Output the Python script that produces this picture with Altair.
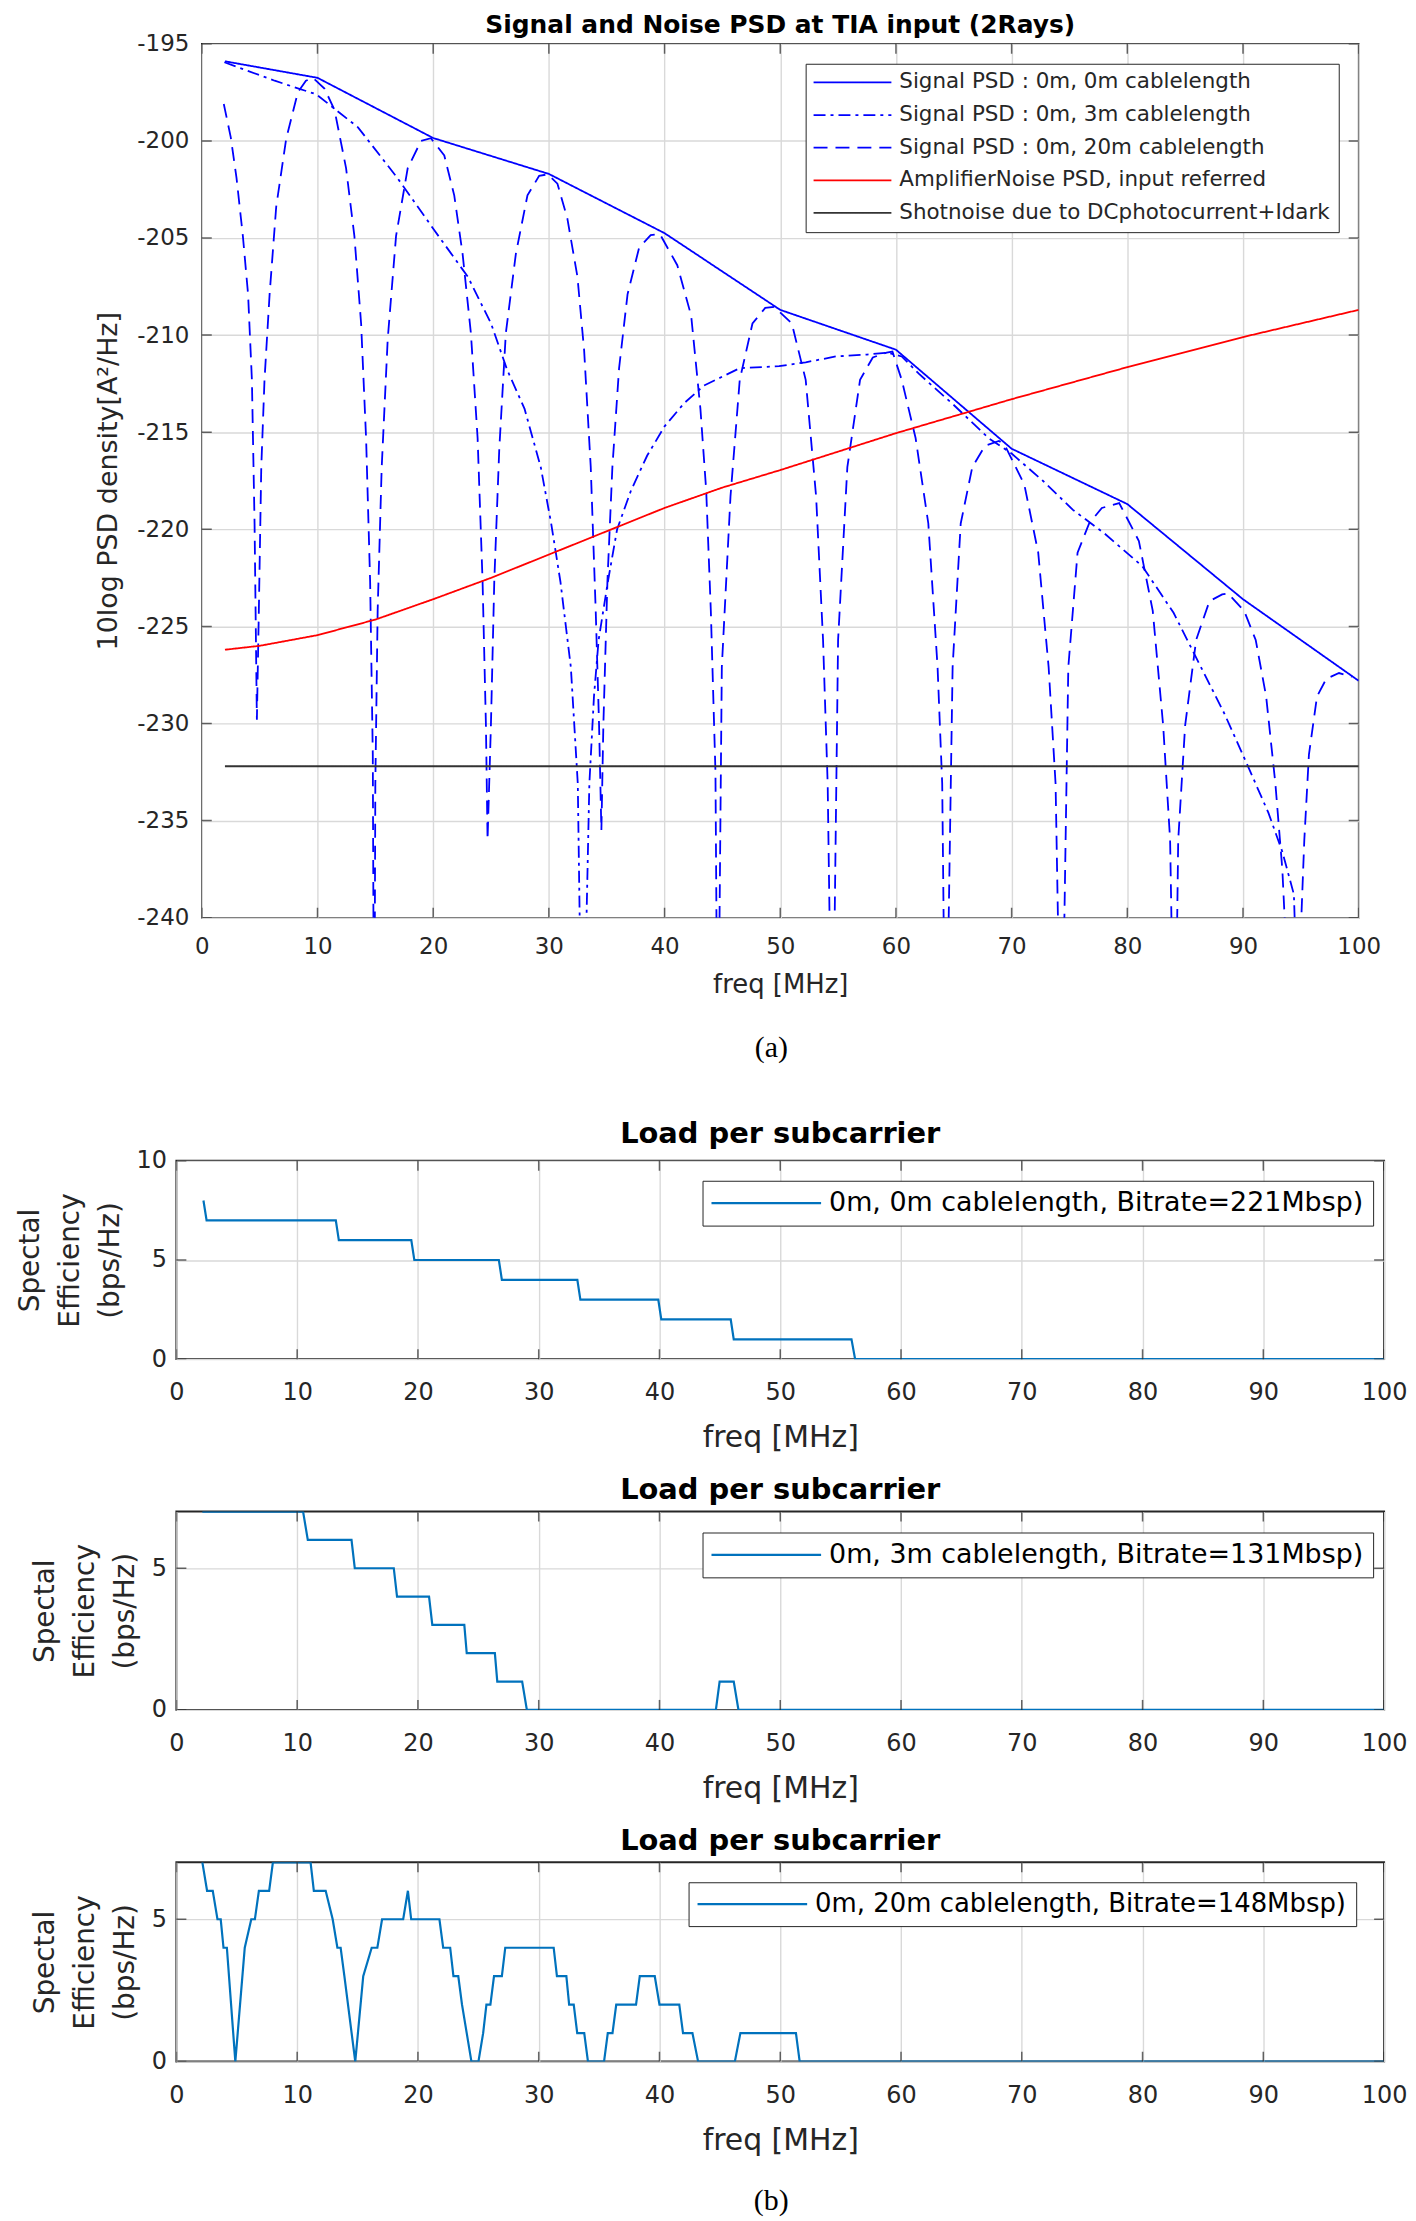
import altair as alt
import pandas as pd

FONT = "DejaVu Sans"
INK = "#262626"
GRID = "#d9d9d9"

# ---------------- (a) Signal and noise PSD ----------------
series_names = [
    "Signal PSD : 0m, 0m cablelength",
    "Signal PSD : 0m, 3m cablelength",
    "Signal PSD : 0m, 20m cablelength",
    "AmplifierNoise PSD, input referred",
    "Shotnoise due to DCphotocurrent+Idark",
]
series_colors = ["#0000ff", "#0000ff", "#0000ff", "#ff0000", "#333333"]
series_dash = [[1, 0], [12, 5, 3, 5], [14, 8], [1, 0], [1, 0]]

freq_0m = [2.0, 10, 20, 30, 40, 50, 60, 70, 80, 90, 100]
psd_0m = [-195.9, -196.75, -199.85, -201.7, -204.75, -208.7, -210.75, -215.85, -218.7, -223.6, -227.8]

freq_3m = [1.95, 6.3, 9.9, 13.5, 16.9, 20.1, 23.0, 25.0, 26.4, 27.9, 29.3, 30.2, 31.0, 31.9,
           32.5, 32.9, 33.5, 33.9, 34.3, 35.1, 35.9, 37.1, 38.5, 40.0, 41.7, 43.4, 46.5, 49.9,
           52.2, 54.8, 57.5, 59.3, 60.5, 62.0, 65.0, 68.0, 70.0, 72.7, 75.3, 78.0, 81.3, 84.0,
           86.2, 88.4, 90.5, 92.2, 93.4, 94.4, 95.0]
psd_3m = [-195.95, -196.9, -197.6, -199.3, -201.9, -204.6, -207.0, -209.4, -211.8, -213.8,
          -216.8, -219.7, -222.7, -227.1, -233.1, -250.0, -233.1, -228.6, -225.7, -222.7,
          -220.0, -218.0, -216.2, -214.7, -213.5, -212.6, -211.7, -211.6, -211.4, -211.1,
          -211.0, -210.9, -211.1, -212.0, -213.6, -215.3, -216.1, -217.5, -219.0, -220.2,
          -221.9, -224.3, -226.9, -229.5, -232.3, -234.6, -236.6, -238.8, -250.0]

freq_20m = [1.9, 2.5, 3.0, 3.55, 4.0, 4.33, 4.56, 4.76, 4.93, 5.14, 5.42, 5.86, 6.43, 7.29,
            8.3, 9.0, 9.6, 10.6, 11.47, 12.47, 13.19, 13.77, 14.2, 14.55, 14.78, 14.9, 15.0,
            15.2, 15.55, 16.07, 16.79, 17.8, 18.95, 19.8, 20.96, 21.82, 22.54, 23.26, 23.84,
            24.27, 24.56, 24.7, 24.99, 25.28, 25.71, 26.28, 27.15, 28.15, 29.16, 29.9, 30.74,
            31.6, 32.47, 33.05, 33.62, 34.05, 34.34, 34.54, 34.71, 35.06, 35.49, 36.07, 36.8,
            37.8, 38.8, 39.6, 41.1, 42.3, 43.1, 43.6, 44.0, 44.4, 44.6, 44.95, 45.7, 46.5,
            47.6, 48.7, 49.5, 51.0, 52.2, 53.1, 53.7, 54.1, 54.5, 55.0, 55.8, 56.9, 58.0,
            59.2, 59.7, 60.5, 61.7, 62.8, 63.6, 64.0, 64.3, 64.9, 65.6, 66.6, 67.7, 68.9,
            69.4, 71.1, 72.3, 73.2, 73.8, 74.3, 74.9, 75.7, 76.7, 77.8, 79.3, 81.0, 82.2,
            83.1, 83.7, 84.1, 84.4, 85.0, 85.95, 87.1, 88.2, 88.7, 90.1, 91.1, 92.0, 92.8,
            93.4, 94.4, 95.3, 95.7, 96.4, 97.2, 98.3, 99.4]
psd_20m = [-198.1, -199.8, -201.9, -204.9, -207.9, -212.3, -219.7, -229.8, -224.2, -216.8,
           -212.3, -207.9, -203.4, -199.9, -197.5, -196.9, -196.75, -197.3, -198.4, -201.4,
           -204.9, -209.4, -215.3, -222.7, -231.6, -250.0, -233.1, -224.2, -216.8, -210.2,
           -204.9, -201.4, -200.0, -199.86, -200.75, -202.8, -205.8, -209.9, -215.3, -222.7,
           -230.1, -236.0, -230.1, -222.7, -215.9, -209.9, -205.8, -202.8, -201.8, -201.72,
           -202.2, -204.0, -207.0, -210.8, -216.8, -224.2, -230.1, -235.5, -230.1, -222.7,
           -216.8, -211.7, -207.9, -205.5, -204.85, -204.8, -206.4, -209.0, -213.8, -218.0,
           -224.2, -232.5, -250.0, -227.1, -218.3, -212.3, -209.4, -208.6, -208.55, -209.4,
           -212.3, -218.3, -225.7, -233.1, -250.0, -225.7, -216.8, -212.3, -211.15, -210.9,
           -210.85, -212.3, -215.3, -219.7, -227.1, -233.1, -250.0, -227.1, -219.7, -216.8,
           -215.7, -215.45, -215.65, -217.7, -221.2, -227.1, -233.1, -250.0, -227.1, -221.2,
           -219.7, -218.9, -218.65, -220.6, -224.2, -230.1, -236.0, -250.0, -236.0, -230.1,
           -225.7, -223.7, -223.35, -223.3, -224.2, -225.7, -228.6, -233.1, -237.5, -250.0,
           -236.0, -231.6, -228.6, -227.7, -227.4, -227.6]

freq_amp = [2, 5, 10, 15, 20, 25, 30, 35, 40, 45, 50, 55, 60, 70, 80, 90, 100]
psd_amp = [-226.2, -226.0, -225.45, -224.65, -223.6, -222.5, -221.3, -220.1, -218.9, -217.85,
           -216.95, -216.0, -215.05, -213.3, -211.65, -210.1, -208.7]

freq_shot = [2, 100]
psd_shot = [-232.2, -232.2]

xA_ticks = list(range(0, 101, 10))
yA_ticks = list(range(-240, -194, 5))

rows = []
for name, fx, fy in zip(series_names,
                        [freq_0m, freq_3m, freq_20m, freq_amp, freq_shot],
                        [psd_0m, psd_3m, psd_20m, psd_amp, psd_shot]):
    for f, p in zip(fx, fy):
        rows.append({"series": name, "freq": f, "psd": p})
df_a = pd.DataFrame(rows)

xA = alt.X("freq:Q", scale=alt.Scale(domain=[0, 100], nice=False),
           axis=alt.Axis(values=xA_ticks, title="freq [MHz]", grid=True, gridColor=GRID,
                         gridWidth=1.4, domain=False, ticks=False, labelFont=FONT,
                         labelFontSize=23, labelColor=INK, labelPadding=18, labelFlush=False,
                         titleFont=FONT, titleFontSize=26, titleFontWeight="normal",
                         titleColor=INK, titlePadding=13))
yA = alt.Y("psd:Q", scale=alt.Scale(domain=[-240, -195], nice=False, zero=False),
           axis=alt.Axis(values=yA_ticks, title="10log PSD density[A²/Hz]", grid=True,
                         gridColor=GRID, gridWidth=1.4, domain=False, ticks=False,
                         labelFont=FONT, labelFontSize=23, labelColor=INK, labelPadding=13,
                         labelExpr="'' + datum.value", labelFlush=False,
                         titleFont=FONT, titleFontSize=27, titleFontWeight="normal",
                         titleColor=INK, titlePadding=14))

legend_a = alt.Legend(orient="none", legendX=606, legendY=20, title=None,
                      symbolType="M-10,0L10,0", symbolSize=61, symbolStrokeWidth=1.8,
                      symbolOffset=28.25, labelOffset=36.25, labelFont=FONT,
                      labelFontSize=21.5, labelColor=INK, labelLimit=800, rowPadding=9.75,
                      padding=8, fillColor="white", strokeColor=INK)

lines_a = alt.Chart(df_a).mark_line(clip=True, strokeWidth=1.8).encode(
    x=xA, y=yA,
    color=alt.Color("series:N", scale=alt.Scale(domain=series_names, range=series_colors),
                    legend=legend_a, title=None),
    strokeDash=alt.StrokeDash("series:N", scale=alt.Scale(domain=series_names, range=series_dash),
                              legend=legend_a, title=None),
)

tick_x_a = pd.DataFrame([{"freq": t, "psd": e} for t in xA_ticks for e in (-240, -195)])
tick_y_a = pd.DataFrame([{"freq": e, "psd": t} for t in yA_ticks for e in (0, 100)])
ticks_a = alt.Chart(tick_x_a).mark_tick(orient="vertical", size=20, thickness=1.5,
                                        color=INK, clip=True).encode(x=xA, y=yA)
ticks_ay = alt.Chart(tick_y_a).mark_tick(orient="horizontal", size=20, thickness=1.5,
                                         color=INK, clip=True).encode(x=xA, y=yA)

chart_a = alt.layer(lines_a, ticks_a, ticks_ay).properties(
    width=1161, height=877,
    title=alt.Title("Signal and Noise PSD at TIA input (2Rays)", font=FONT, fontSize=25,
                    fontWeight="bold", color="black", offset=-5, anchor="middle",
                    frame="group"),
    view=alt.ViewBackground(stroke=INK, strokeWidth=1.6),
)

# ---------------- (b) Load per subcarrier ----------------
b1_name = "0m, 0m cablelength, Bitrate=221Mbsp)"
b1_freq = [2.24, 2.5, 13.2, 13.45, 19.45, 19.7, 26.7, 26.95, 33.2, 33.45, 39.9, 40.15, 45.9,
           46.15, 55.9, 56.2, 100]
b1_load = [8, 7, 7, 6, 6, 5, 5, 4, 4, 3, 3, 2, 2, 1, 1, 0, 0]

b2_name = "0m, 3m cablelength, Bitrate=131Mbsp)"
b2_freq = [2.15, 10.49, 10.88, 14.5, 14.77, 18.0, 18.27, 20.92, 21.19, 23.84, 24.04, 26.37,
           26.57, 28.63, 29.02, 44.67, 44.98, 46.15, 46.54, 100]
b2_load = [7, 7, 6, 6, 5, 5, 4, 4, 3, 3, 2, 2, 1, 1, 0, 0, 1, 1, 0, 0]

b3_name = "0m, 20m cablelength, Bitrate=148Mbsp)"
b3_freq = [2.15, 2.54, 3.01, 3.40, 3.67, 3.90, 4.18, 4.88, 5.66, 6.2, 6.5, 6.83, 7.68, 7.99,
           11.11, 11.38, 12.36, 12.94, 13.33, 13.6, 13.91, 14.81, 15.47, 16.17, 16.64, 17.03,
           18.78, 19.17, 19.44, 21.78, 22.09, 22.67, 22.94, 23.34, 23.65, 24.04, 24.43, 25.01,
           25.40, 25.67, 26.0, 26.3, 26.95, 27.23, 31.24, 31.51, 32.29, 32.52, 32.9, 33.19,
           33.77, 34.08, 35.41, 35.72, 36.11, 36.42, 38.06, 38.37, 39.61, 40.0, 41.64, 41.95,
           42.73, 43.2, 46.24, 46.7, 51.3, 51.61, 100]
b3_load = [7, 6, 6, 5, 5, 4, 4, 0, 4, 5, 5, 6, 6, 7,
           7, 6, 6, 5, 4, 4, 3, 0, 3, 4, 4, 5,
           5, 6, 5, 5, 4, 4, 3, 3, 2, 1, 0, 0,
           1, 2, 2, 3, 3, 4, 4, 3, 3, 2, 2, 1,
           1, 0, 0, 1, 1, 2, 2, 3, 3, 2, 2, 1,
           1, 0, 0, 1, 1, 0, 0]

xB_ticks = list(range(0, 101, 10))
LOAD_BLUE = "#0072BD"


def load_chart(freqs, loads, name, key, ymax, yticks, lx, ly, height, title_offset, lfont):
    df = pd.DataFrame({"freq": freqs, "load": loads, key: [name] * len(freqs)})
    xB = alt.X("freq:Q", scale=alt.Scale(domain=[0, 100], nice=False),
               axis=alt.Axis(values=xB_ticks, title="freq [MHz]", grid=True, gridColor=GRID,
                             gridWidth=1.4, domain=False, ticks=False, labelFont=FONT,
                             labelFontSize=24, labelColor=INK, labelPadding=22,
                             labelFlush=False, titleFont=FONT, titleFontSize=30,
                             titleFontWeight="normal", titleColor=INK, titlePadding=18))
    yB = alt.Y("load:Q", scale=alt.Scale(domain=[0, ymax], nice=False),
               axis=alt.Axis(values=yticks, title=["Spectal", "Efficiency", "(bps/Hz)"],
                             grid=True, gridColor=GRID, gridWidth=1.4, domain=False,
                             ticks=False, labelFont=FONT, labelFontSize=24, labelColor=INK,
                             labelPadding=10, labelFlush=False, titleFont=FONT,
                             titleFontSize=28, titleFontWeight="normal", titleColor=INK,
                             titlePadding=12, titleLineHeight=40))
    half = lfont / 2.0
    leg = alt.Legend(orient="none", legendX=lx, legendY=ly, title=None,
                     symbolType="M-10,0L10,0", symbolSize=121, symbolStrokeWidth=2.2,
                     symbolOffset=55 - half, labelOffset=63 - half, labelFont=FONT,
                     labelFontSize=lfont, labelColor="black", labelLimit=900, padding=9,
                     fillColor="white", strokeColor=INK)
    line = alt.Chart(df).mark_line(clip=True, strokeWidth=2.2).encode(
        x=xB, y=yB,
        color=alt.Color(f"{key}:N", scale=alt.Scale(domain=[name], range=[LOAD_BLUE]),
                        legend=leg, title=None),
    )
    tx = pd.DataFrame([{"freq": t, "load": e} for t in xB_ticks for e in (0, ymax)])
    ty = pd.DataFrame([{"freq": e, "load": t} for t in yticks for e in (0, 100)])
    tick_x = alt.Chart(tx).mark_tick(orient="vertical", size=20, thickness=1.5, color=INK,
                                     clip=True).encode(x=xB, y=yB)
    tick_y = alt.Chart(ty).mark_tick(orient="horizontal", size=20, thickness=1.5, color=INK,
                                     clip=True).encode(x=xB, y=yB)
    return alt.layer(line, tick_x, tick_y).properties(
        width=1212, height=height,
        title=alt.Title("Load per subcarrier", font=FONT, fontSize=29, fontWeight="bold",
                        color="black", offset=title_offset, anchor="middle", frame="group"),
        view=alt.ViewBackground(stroke=INK, strokeWidth=2),
    )


chart_b1 = load_chart(b1_freq, b1_load, b1_name, "run1", 10, [0, 5, 10], 528, 20, 199, 0, 27)
chart_b2 = load_chart(b2_freq, b2_load, b2_name, "run2", 7, [0, 5], 528, 21, 199, 7, 27)
chart_b3 = load_chart(b3_freq, b3_load, b3_name, "run3", 7, [0, 5], 514, 20, 200, 6.5, 26)


def caption(text, ypos, height):
    return alt.Chart(pd.DataFrame({"label": [text]})).mark_text(
        font="Liberation Serif", fontSize=30, color="black", align="center",
        baseline="middle").encode(
        text="label:N", x=alt.value(597), y=alt.value(ypos)
    ).properties(width=1212, height=height,
                 view=alt.ViewBackground(stroke="transparent"))


cap_a = caption("(a)", 71, 124)
spacer1 = caption("", 10, 33)
spacer2 = caption("", 10, 33)
cap_b = caption("(b)", 80, 96)

chart = alt.vconcat(chart_a, cap_a, chart_b1, spacer1, chart_b2, spacer2, chart_b3, cap_b,
                    spacing=60, center=True, bounds="flush").resolve_scale(
    color="independent", strokeDash="independent"
).resolve_legend(
    color="independent", strokeDash="independent"
).properties(
    padding={"left": 7, "top": 0, "right": 0, "bottom": 0}, background="white"
).configure_view(stroke="transparent")

chart.save("out.html", embed_options={"renderer": "svg", "actions": False})
